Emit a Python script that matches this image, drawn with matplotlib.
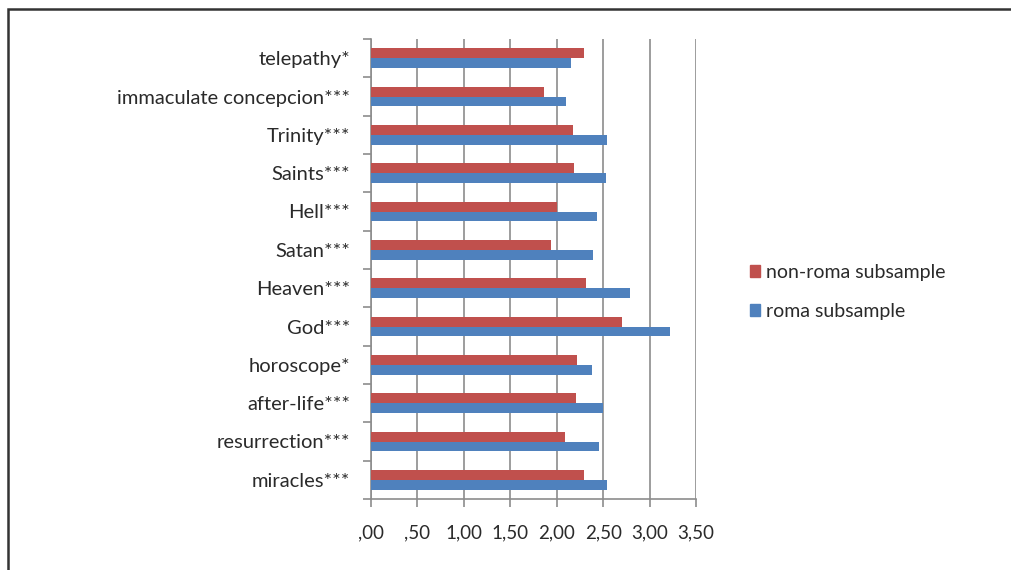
import matplotlib.pyplot as plt
from matplotlib.patches import Rectangle, Patch
from matplotlib.ticker import FixedLocator
import numpy as np

plt.rcParams['font.family'] = ['Lato', 'DejaVu Sans']

# categories listed bottom to top
items = ['miracles***', 'resurrection***', 'after-life***', 'horoscope*', 'God***',
         'Heaven***', 'Satan***', 'Hell***', 'Saints***', 'Trinity***',
         'immaculate concepcion***', 'telepathy*']
non_roma = [2.29, 2.09, 2.21, 2.22, 2.70, 2.31, 1.94, 2.00, 2.19, 2.17, 1.86, 2.29]
roma = [2.54, 2.46, 2.50, 2.38, 3.22, 2.79, 2.39, 2.43, 2.53, 2.54, 2.10, 2.15]
xticklabels = [',00', ',50', '1,00', '1,50', '2,00', '2,50', '3,00', '3,50']

red = '#C0504D'
blue = '#4F81BD'
grid_c = '#8C8C8C'
txt_c = '#2A2A2A'

fig = plt.figure(figsize=(10.12, 5.70), dpi=100)
ax = fig.add_axes([371/1012, 71/570, 325/1012, 460/570])

y = np.arange(len(items))
h = 0.26
ax.barh(y + h/2, non_roma, height=h, color=red, label='non-roma subsample', zorder=3)
ax.barh(y - h/2, roma, height=h, color=blue, label='roma subsample', zorder=3)

ax.set_xlim(0, 3.5)
ax.set_ylim(-0.5, len(items) - 0.5)
ax.set_xticks(np.arange(0, 3.51, 0.5))
ax.set_xticklabels(xticklabels, fontsize=13.5, color=txt_c)
ax.tick_params(axis='x', length=6, width=1.2, color=grid_c, pad=12)
ax.xaxis.grid(True, color=grid_c, linewidth=1.2, zorder=0)

ax.set_yticks(y)
ax.set_yticklabels(items, fontsize=14.5, color=txt_c)
ax.yaxis.set_minor_locator(FixedLocator(np.arange(-0.5, len(items), 1)))
ax.tick_params(axis='y', which='major', length=0, pad=15)
ax.tick_params(axis='y', which='minor', length=6, width=1.2, color=grid_c)

for s in ['top', 'right']:
    ax.spines[s].set_visible(False)
for s in ['left', 'bottom']:
    ax.spines[s].set_color(grid_c)
    ax.spines[s].set_linewidth(1.2)

handles = [Patch(color=red, label='non-roma subsample'),
           Patch(color=blue, label='roma subsample')]
fig.legend(handles=handles, loc='center left', bbox_to_anchor=(732/1012, 1 - 292/570),
           frameon=False, fontsize=14, handlelength=0.55, handleheight=0.55,
           handletextpad=0.3, labelspacing=1.15, labelcolor=txt_c)

# outer frame
fig.patches.append(Rectangle((8/1012, -0.1), 1.2, 1 - 9/570 + 0.1, transform=fig.transFigure,
                             fill=False, edgecolor='#333333', linewidth=1.8))

fig.savefig('out.png', dpi=100)
